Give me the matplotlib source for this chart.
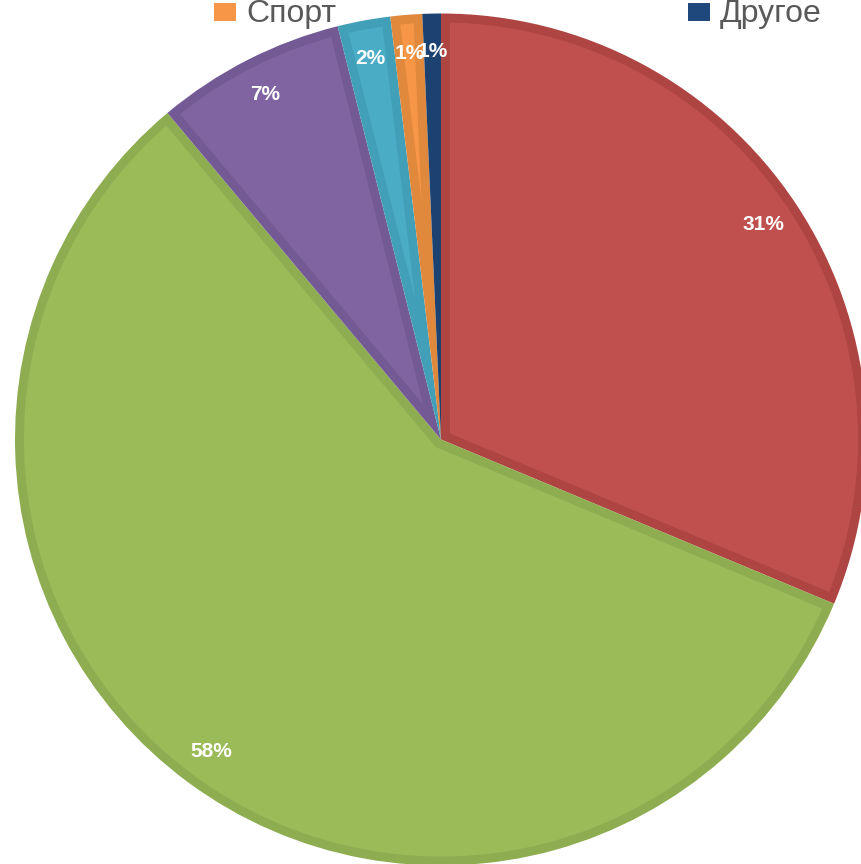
import matplotlib
matplotlib.use("Agg")
import numpy as np
import matplotlib.pyplot as plt
from matplotlib.patches import Rectangle, Polygon

# ---- data ----
categories = ["Работа", "Учёба", "Хобби", "Музыка", "Спорт", "Другое"]
values = [31.3, 57.6, 7.2, 2.0, 1.2, 0.7]
face_colors = ["#C0504D", "#9BBB59", "#8064A2", "#4BACC6", "#F79646", "#1F497D"]
edge_colors = ["#AE4542", "#8EAD50", "#735A94", "#41A0B8", "#E0883C", "#1C4272"]
legend_shown = ["Спорт", "Другое"]

W, H = 862, 864
fig = plt.figure(figsize=(W / 100, H / 100), dpi=100)

cx, cy, r = 441, 439.5, 426
ax = fig.add_axes([(cx - r) / W, (H - cy - r) / H, 2 * r / W, 2 * r / H])

# outer (darker) wedges: pie draws the slices, labels from the values
wedges, texts, autotexts = ax.pie(
    values,
    colors=edge_colors,
    startangle=90,
    counterclock=False,
    radius=1.0,
    center=(0, 0),
    autopct=lambda p: f"{p:.0f}%",
    pctdistance=0.91,
    wedgeprops=dict(linewidth=0),
    textprops=dict(color="white", fontsize=15, fontweight="bold",
                   family=["Liberation Sans", "DejaVu Sans"], zorder=5),
    frame=False,
)
ax.set_xlim(-1, 1)
ax.set_ylim(-1, 1)
ax.set_axis_off()

# inner lighter fill, inset from every edge of each wedge by a band
d = 9 / r
for w, fc in zip(wedges, face_colors):
    t1, t2 = np.deg2rad(w.theta1), np.deg2rad(w.theta2)
    half = (t2 - t1) / 2
    R = w.r - d
    apex_dist = d / np.sin(half)
    if apex_dist >= R:
        continue
    delta = np.arcsin(d / R)
    a = np.linspace(t1 + delta, t2 - delta, 200)
    mid = (t1 + t2) / 2
    apex = (apex_dist * np.cos(mid), apex_dist * np.sin(mid))
    pts = [apex] + list(zip(R * np.cos(a), R * np.sin(a)))
    ax.add_patch(Polygon(pts, closed=True, facecolor=fc, edgecolor="none", zorder=2))

# ---- legend (only the last row visible, top cropped) ----
leg_x = {"Спорт": 214, "Другое": 688}
for name in legend_shown:
    i = categories.index(name)
    x0 = leg_x[name]
    fig.patches.append(Rectangle((x0 / W, (H - 21) / H), 22 / W, 18 / H,
                                 transform=fig.transFigure,
                                 facecolor=face_colors[i], edgecolor="none"))
    fig.text((x0 + 32) / W, (H - 22) / H, name, fontsize=23, color="#595959",
             family=["Liberation Sans", "DejaVu Sans"], va="baseline", ha="left")

fig.savefig("out.png", dpi=100)
